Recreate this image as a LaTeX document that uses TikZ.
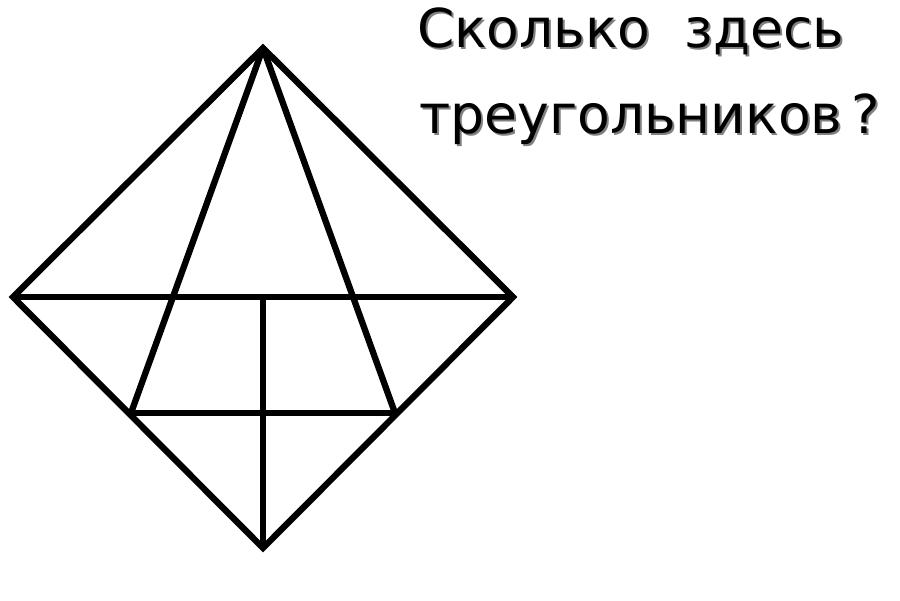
\documentclass[tikz,border=0pt]{standalone}
\usepackage{fontspec}
\setmainfont{DejaVu Sans}
\begin{document}
\begin{tikzpicture}[x=0.02cm,y=-0.02cm,line width=3.6pt]
\tikzset{edge/.style={draw=black,line join=miter},
  question/.style={anchor=base west,inner sep=0pt,font=\fontsize{30.5}{36}\selectfont}}
\useasboundingbox (0,0) rectangle (900,600);
\coordinate (top) at (263,48);
\coordinate (left) at (13,297);
\coordinate (right) at (513,297);
\coordinate (bottom) at (263,548);
\coordinate (mid) at (263,297);
\coordinate (lowl) at (131,413);
\coordinate (lowr) at (395,413);
\draw[edge] (top) -- (left) -- (bottom) -- (right) -- cycle;
\draw[edge] (left) -- (right);
\draw[edge] (top) -- (lowl);
\draw[edge] (top) -- (lowr);
\draw[edge] (lowl) -- (lowr);
\draw[edge] (mid) -- (bottom);
\node[question,text=black!50] (shadow1) at (416,49) {Сколько\ \ здесь};
\node[question] (line1) at (414,47) {Сколько\ \ здесь};
\node[question,text=black!50] (shadow2) at (418,135) {треугольников\,?};
\node[question] (line2) at (416,133) {треугольников\,?};
\end{tikzpicture}
\end{document}
